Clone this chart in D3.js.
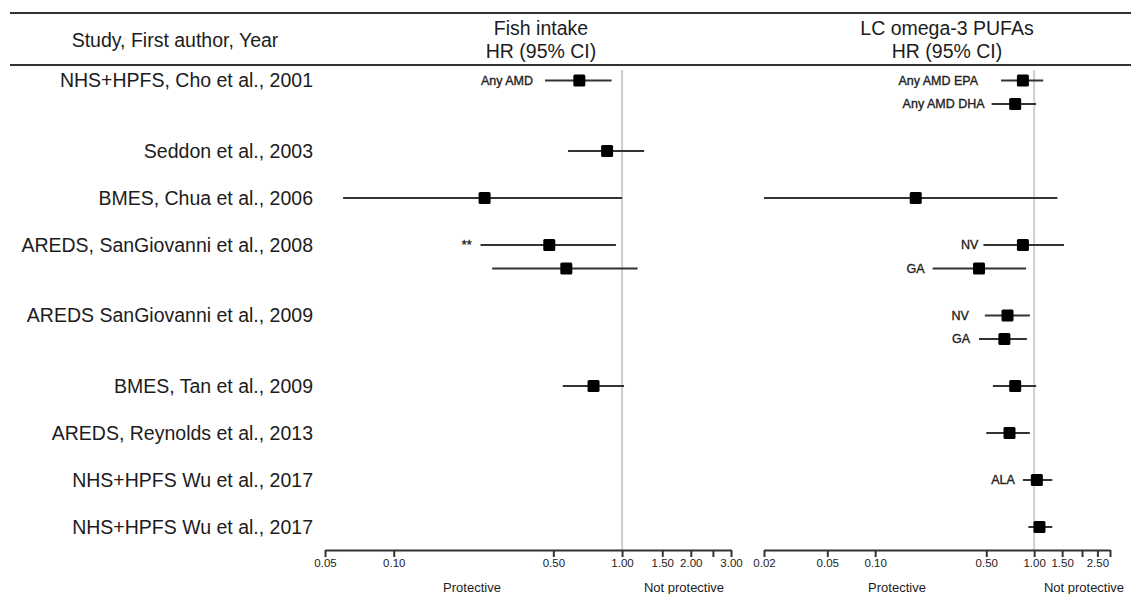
<!DOCTYPE html>
<html>
<head>
<meta charset="utf-8">
<script src="https://cdn.jsdelivr.net/npm/d3@7"></script>
<style>
  html, body { margin: 0; padding: 0; background: #fff; }
  svg { display: block; font-family: "Liberation Sans", Arial, sans-serif; }
</style>
</head>
<body>
<svg id="chart" width="1131" height="594"></svg>
<script>
// ---------------- DATA ----------------
const studies = [
  "NHS+HPFS, Cho et al., 2001",
  "Seddon et al., 2003",
  "BMES, Chua et al., 2006",
  "AREDS, SanGiovanni et al., 2008",
  "AREDS SanGiovanni et al., 2009",
  "BMES, Tan et al., 2009",
  "AREDS, Reynolds et al., 2013",
  "NHS+HPFS Wu et al., 2017",
  "NHS+HPFS Wu et al., 2017"
];

// Fish intake panel
const fishStudy = [0, 1, 2, 3, 3, 5];
const fishSub   = [0, 0, 0, 0, 1, 0];
const fishHR    = [0.65, 0.86, 0.25, 0.48, 0.57, 0.75];
const fishLo    = [0.46, 0.58, 0.06, 0.24, 0.27, 0.55];
const fishHi    = [0.90, 1.25, 1.00, 0.94, 1.17, 1.02];
const fishNote  = ["Any AMD", "", "", "**", "", ""];

// LC omega-3 PUFAs panel
const omegaStudy = [0, 0, 2, 3, 3, 4, 4, 5, 6, 7, 8];
const omegaSub   = [0, 1, 0, 0, 1, 0, 1, 0, 0, 0, 0];
const omegaHR    = [0.85, 0.76, 0.18, 0.85, 0.45, 0.68, 0.65, 0.76, 0.70, 1.04, 1.08];
const omegaLo    = [0.62, 0.54, 0.02, 0.48, 0.23, 0.49, 0.45, 0.55, 0.50, 0.85, 0.92];
const omegaHi    = [1.14, 1.03, 1.40, 1.54, 0.89, 0.94, 0.90, 1.03, 0.94, 1.30, 1.30];
const omegaNote  = ["Any AMD EPA", "Any AMD DHA", "", "NV", "GA", "NV", "GA", "", "", "ALA", ""];

// Axis ticks
const fishTicks       = [0.05, 0.10, 0.50, 1.00, 1.50, 2.00, 2.50, 3.00];
const fishTickLabels  = ["0.05", "0.10", "0.50", "1.00", "1.50", "2.00", "", "3.00"];
const omegaTicks      = [0.02, 0.05, 0.10, 0.50, 1.00, 1.50, 2.00, 2.50, 3.00];
const omegaTickLabels = ["0.02", "0.05", "0.10", "0.50", "1.00", "1.50", "", "2.50", ""];

const headerStudy = "Study, First author, Year";
const headerFish  = ["Fish intake", "HR (95% CI)"];
const headerOmega = ["LC omega-3 PUFAs", "HR (95% CI)"];
const lowLabel = "Protective";
const highLabel = "Not protective";

// ---------------- LAYOUT ----------------
// gap (px) between each annotation and the left end of its CI line
const fishNoteGap  = [12, 0, 0, 9, 0, 0];
const omegaNoteGap = [23, 7, 0, 5, 8, 16, 9, 0, 0, 8, 0];

const svg = d3.select("#chart");
const ink = "#1c1c1c";

// row slots: each study takes its sub-rows plus one blank slot
const nSub = studies.map((s, i) => {
  const a = fishSub.filter((d, k) => fishStudy[k] === i);
  const b = omegaSub.filter((d, k) => omegaStudy[k] === i);
  return Math.max(0, ...a, ...b) + 1;
});
const studySlot = [];
let acc = 0;
nSub.forEach((n, i) => { studySlot[i] = acc; acc += n + 1; });
const totalSlots = acc - 2;

const y = d3.scaleLinear().domain([0, totalSlots]).range([80.5, 527]);

const xFish  = d3.scaleLog().domain([0.05, 3]).range([325, 731]);
const xOmega = d3.scaleLog().domain([0.02, 3]).range([764, 1110]);

const axisY = 550;
const refTop = 70;

// header rules
[13, 65].forEach(yy => {
  svg.append("line").attr("x1", 10).attr("x2", 1131).attr("y1", yy).attr("y2", yy)
    .attr("stroke", "#333").attr("stroke-width", 2);
});

// header texts
svg.append("text").attr("x", 175).attr("y", 47).attr("text-anchor", "middle")
  .attr("font-size", 19.5).attr("fill", ink).text(headerStudy);
headerFish.forEach((t, i) => svg.append("text").attr("x", 541).attr("y", 35 + i * 23)
  .attr("text-anchor", "middle").attr("font-size", 19.5).attr("fill", ink).text(t));
headerOmega.forEach((t, i) => svg.append("text").attr("x", 947).attr("y", 35 + i * 23)
  .attr("text-anchor", "middle").attr("font-size", 19.5).attr("fill", ink).text(t));

// study labels
svg.append("g").selectAll("text").data(studies).join("text")
  .attr("x", 313).attr("y", (d, i) => y(studySlot[i]))
  .attr("dy", "0.35em").attr("text-anchor", "end")
  .attr("font-size", 19.5).attr("fill", ink).text(d => d);

function panel(x, st, sub, hr, lo, hi, note, gap, ticks, tickLabels, lowX, highX) {
  const g = svg.append("g");
  // reference line at HR = 1
  g.append("line").attr("x1", x(1)).attr("x2", x(1)).attr("y1", refTop).attr("y2", axisY)
    .attr("stroke", "#cfcfcf").attr("stroke-width", 2);

  const rows = hr.map((v, i) => ({
    hr: v, lo: lo[i], hi: hi[i], note: note[i], gap: gap[i],
    yy: y(studySlot[st[i]] + sub[i])
  }));

  g.selectAll("line.ci").data(rows).join("line").attr("class", "ci")
    .attr("x1", d => x(d.lo)).attr("x2", d => x(d.hi))
    .attr("y1", d => d.yy).attr("y2", d => d.yy)
    .attr("stroke", "#333").attr("stroke-width", 2);

  const s = 12;
  g.selectAll("rect.pt").data(rows).join("rect").attr("class", "pt")
    .attr("x", d => x(d.hr) - s / 2).attr("y", d => d.yy - s / 2)
    .attr("width", s).attr("height", s).attr("rx", 1.5).attr("fill", "#000");

  g.selectAll("text.note").data(rows.filter(d => d.note)).join("text").attr("class", "note")
    .attr("x", d => x(d.lo) - d.gap).attr("y", d => d.yy)
    .attr("dy", "0.35em").attr("text-anchor", "end")
    .attr("font-size", 12.5).attr("fill", "#222")
    .attr("stroke", "#222").attr("stroke-width", 0.35)
    .text(d => d.note);

  // axis
  const ax = g.append("g").attr("transform", `translate(0,${axisY})`)
    .call(d3.axisBottom(x).tickValues(ticks)
      .tickFormat((d, i) => tickLabels[i]).tickSize(7).tickSizeOuter(0).tickPadding(2));
  ax.select(".domain").attr("stroke", "#333").attr("stroke-width", 2);
  ax.selectAll(".tick line").attr("stroke", "#333").attr("stroke-width", 2);
  ax.selectAll(".tick text").attr("font-size", 11.5).attr("fill", ink)
    .attr("font-family", "'Liberation Sans', Arial, sans-serif");

  g.append("text").attr("x", lowX).attr("y", 592).attr("text-anchor", "middle")
    .attr("font-size", 13).attr("fill", ink).text(lowLabel);
  g.append("text").attr("x", highX).attr("y", 592).attr("text-anchor", "middle")
    .attr("font-size", 13).attr("fill", ink).text(highLabel);
}

panel(xFish, fishStudy, fishSub, fishHR, fishLo, fishHi, fishNote, fishNoteGap,
      fishTicks, fishTickLabels, 472, 684);
panel(xOmega, omegaStudy, omegaSub, omegaHR, omegaLo, omegaHi, omegaNote, omegaNoteGap,
      omegaTicks, omegaTickLabels, 897, 1084);
</script>
</body>
</html>
